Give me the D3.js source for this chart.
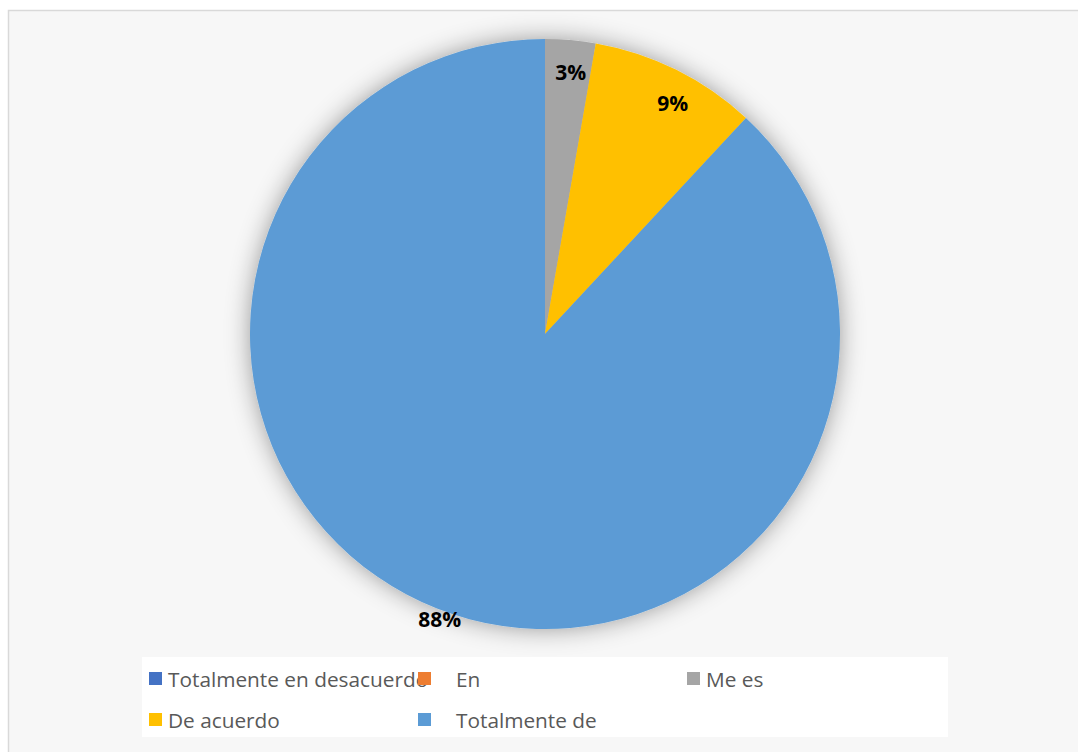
<!DOCTYPE html>
<html>
<head>
<meta charset="utf-8">
<script src="https://cdn.jsdelivr.net/npm/d3@7"></script>
<style>
  html, body { margin: 0; padding: 0; background: #ffffff; }
  svg { display: block; }
</style>
</head>
<body>
<div id="chart"></div>
<script>
// Survey answers (counts per response category)
const categories = ["Totalmente en desacuerdo", "En", "Me es", "De acuerdo", "Totalmente de"];
const counts = [0, 0, 3, 10, 96];
const colors = ["#4472C4", "#ED7D31", "#A5A5A5", "#FFC000", "#5B9BD5"];

// Label placement: radial fraction of the radius plus a small pixel nudge
const labelRadius = [0.89, 0.89, 0.89, 0.89, 1.04];
const labelNudgeX = [0, 0, 3, 11, 7];
const labelNudgeY = [0, 0, 0, 5, 0];

const width = 1078, height = 752;
const cx = 545, cy = 334, R = 295;

const svg = d3.select("#chart").append("svg")
  .attr("width", width).attr("height", height);

// Soft outer shadow around the pie
const defs = svg.append("defs");
const f = defs.append("filter").attr("id", "glow")
  .attr("x", "-20%").attr("y", "-20%").attr("width", "140%").attr("height", "140%");
f.append("feGaussianBlur").attr("in", "SourceAlpha").attr("stdDeviation", 12).attr("result", "b");
f.append("feFlood").attr("flood-color", "#000").attr("flood-opacity", 0.38);
f.append("feComposite").attr("in2", "b").attr("operator", "in").attr("result", "s");
const m = f.append("feMerge");
m.append("feMergeNode").attr("in", "s");
m.append("feMergeNode").attr("in", "SourceGraphic");

// Chart area
svg.append("rect")
  .attr("x", 8.5).attr("y", 10.5)
  .attr("width", width).attr("height", height)
  .attr("fill", "#f7f7f7").attr("stroke", "#d9d9d9").attr("stroke-width", 1.5);

const total = d3.sum(counts);
const pie = d3.pie().sort(null).value(d => d)(counts);
const arc = d3.arc().innerRadius(0).outerRadius(R);

const g = svg.append("g").attr("transform", `translate(${cx},${cy})`);
const slices = g.append("g").attr("filter", "url(#glow)");
slices.selectAll("path")
  .data(pie.filter(d => d.value > 0))
  .join("path")
  .attr("d", arc)
  .attr("fill", d => colors[d.index]);

// Percentage labels
g.selectAll("text.pct")
  .data(pie.filter(d => d.value > 0))
  .join("text")
  .attr("class", "pct")
  .attr("transform", d => {
    const a = (d.startAngle + d.endAngle) / 2;
    const r = R * labelRadius[d.index];
    const x = Math.sin(a) * r + labelNudgeX[d.index];
    const y = -Math.cos(a) * r + labelNudgeY[d.index];
    return `translate(${x},${y})`;
  })
  .attr("text-anchor", "middle")
  .attr("dy", "0.36em")
  .attr("font-family", "'Open Sans', sans-serif")
  .attr("font-weight", "bold")
  .attr("font-size", 21)
  .attr("fill", "#000")
  .text(d => Math.round(d.value / total * 100) + "%");

// Legend
const legend = svg.append("g");
legend.append("rect")
  .attr("x", 142).attr("y", 657).attr("width", 806).attr("height", 80)
  .attr("fill", "#ffffff");

const legendPos = [
  { mx: 149, tx: 168, y: 680 },
  { mx: 418, tx: 456, y: 680 },
  { mx: 687, tx: 706, y: 680 },
  { mx: 149, tx: 168, y: 721 },
  { mx: 418, tx: 456, y: 721 }
];
const items = legend.selectAll("g.item")
  .data(categories)
  .join("g").attr("class", "item");
items.append("text")
  .attr("x", (d, i) => legendPos[i].tx)
  .attr("y", (d, i) => legendPos[i].y)
  .attr("dy", "0.36em")
  .attr("font-family", "'Open Sans', sans-serif")
  .attr("font-size", 20.8)
  .attr("fill", "#595959")
  .text(d => d);
items.append("rect")
  .attr("x", (d, i) => legendPos[i].mx)
  .attr("y", (d, i) => legendPos[i].y - 8)
  .attr("width", 13).attr("height", 13)
  .attr("fill", (d, i) => colors[i]);
</script>
</body>
</html>
